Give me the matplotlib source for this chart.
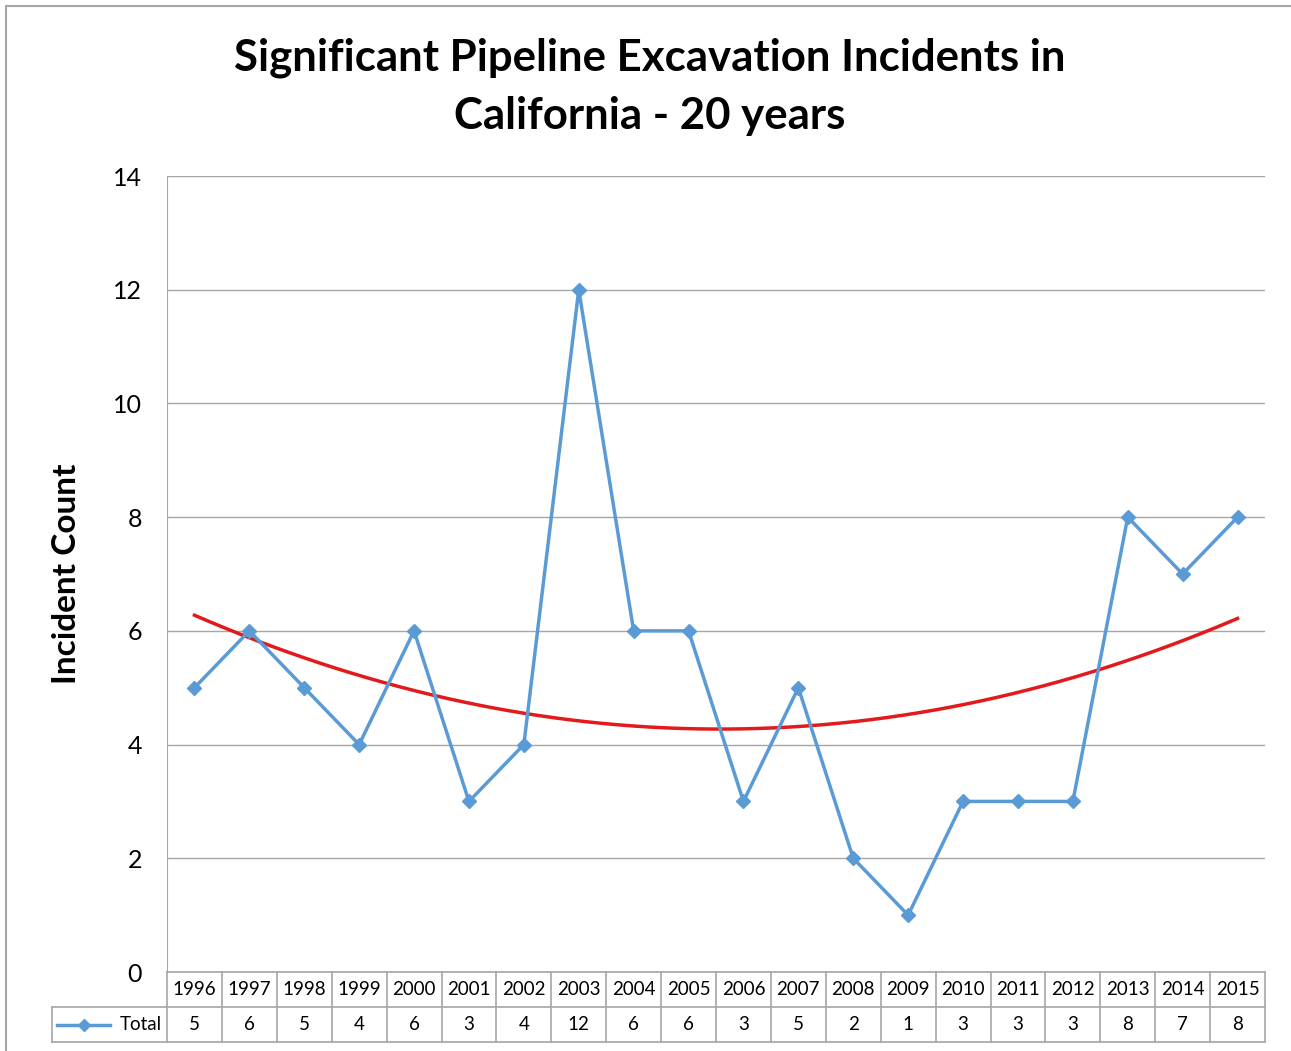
import numpy as np
import matplotlib.pyplot as plt
from matplotlib.lines import Line2D

years = ['1996', '1997', '1998', '1999', '2000', '2001', '2002', '2003', '2004', '2005',
         '2006', '2007', '2008', '2009', '2010', '2011', '2012', '2013', '2014', '2015']
total = [5, 6, 5, 4, 6, 3, 4, 12, 6, 6, 3, 5, 2, 1, 3, 3, 3, 8, 7, 8]
yticks = [0, 2, 4, 6, 8, 10, 12, 14]

plt.rcParams['font.family'] = ['Lato', 'DejaVu Sans']

W, H = 1291, 1051
fig = plt.figure(figsize=(W / 100, H / 100), dpi=100)

# outer chart border (Excel chart area)
grey = '#a6a6a6'
fig.add_artist(Line2D([6 / W, 6 / W], [0, 1 - 6 / H], color=grey, lw=1.5))
fig.add_artist(Line2D([6 / W, 1], [1 - 6 / H, 1 - 6 / H], color=grey, lw=1.5))

ax = fig.add_axes([167 / W, (H - 972) / H, 1098 / W, 796 / H])
x = np.arange(len(years))
blue = '#5b9bd5'
ax.plot(x, total, color=blue, lw=2.5, marker='D', ms=7, zorder=3)

# 2nd order polynomial trendline
coef = np.polyfit(x + 1, total, 2)
xs = np.linspace(1, len(years), 200)
ax.plot(xs - 1, np.polyval(coef, xs), color='#e31a1c', lw=2.5, zorder=2)

ax.set_xlim(-0.5, len(years) - 0.5)
ax.set_ylim(0, 14)
ax.set_yticks(yticks)
ax.set_yticklabels([str(v) for v in yticks], fontsize=18)
ax.set_xticks([])
ax.tick_params(axis='y', length=0, pad=18)
ax.grid(axis='y', color='#a6a6a6', lw=1)
for s in ['top', 'right', 'bottom']:
    ax.spines[s].set_visible(False)
ax.spines['left'].set_color('#a6a6a6')
ax.set_ylabel('Incident Count', fontsize=24, fontweight='bold', labelpad=23)

# data table under the plot
tr = ax.get_xaxis_transform()
rh = 35 / 796
lc = '#a6a6a6'
n = len(years)
x0 = -0.5 - 115 / 54.9
ax.plot([-0.5, n - 0.5], [0, 0], color=lc, lw=1.2, transform=tr, clip_on=False)
ax.plot([x0, n - 0.5], [-rh, -rh], color=lc, lw=1.2, transform=tr, clip_on=False)
ax.plot([x0, n - 0.5], [-2 * rh, -2 * rh], color=lc, lw=1.2, transform=tr, clip_on=False)
ax.plot([x0, x0], [-rh, -2 * rh], color=lc, lw=1.2, transform=tr, clip_on=False)
for i in range(n + 1):
    ax.plot([i - 0.5, i - 0.5], [0, -2 * rh], color=lc, lw=1.2, transform=tr, clip_on=False)
for i in range(n):
    ax.text(i, -0.5 * rh, years[i], transform=tr, ha='center', va='center', fontsize=13.5)
    ax.text(i, -1.5 * rh, str(total[i]), transform=tr, ha='center', va='center', fontsize=13.5)
ax.plot([x0 + 0.1, x0 + 1.05], [-1.5 * rh, -1.5 * rh], color=blue, lw=2.5, transform=tr, clip_on=False)
ax.plot([x0 + 0.575], [-1.5 * rh], color=blue, marker='D', ms=6, transform=tr, clip_on=False)
ax.text(-0.6, -1.5 * rh, 'Total', transform=tr, ha='right', va='center', fontsize=13.5)

fig.text(650 / W, 1 - 58 / H, 'Significant Pipeline Excavation Incidents in',
         ha='center', va='center', fontsize=31.5, fontweight='bold')
fig.text(650 / W, 1 - 116 / H, 'California - 20 years',
         ha='center', va='center', fontsize=31.5, fontweight='bold')

fig.savefig('out.png', dpi=100)
